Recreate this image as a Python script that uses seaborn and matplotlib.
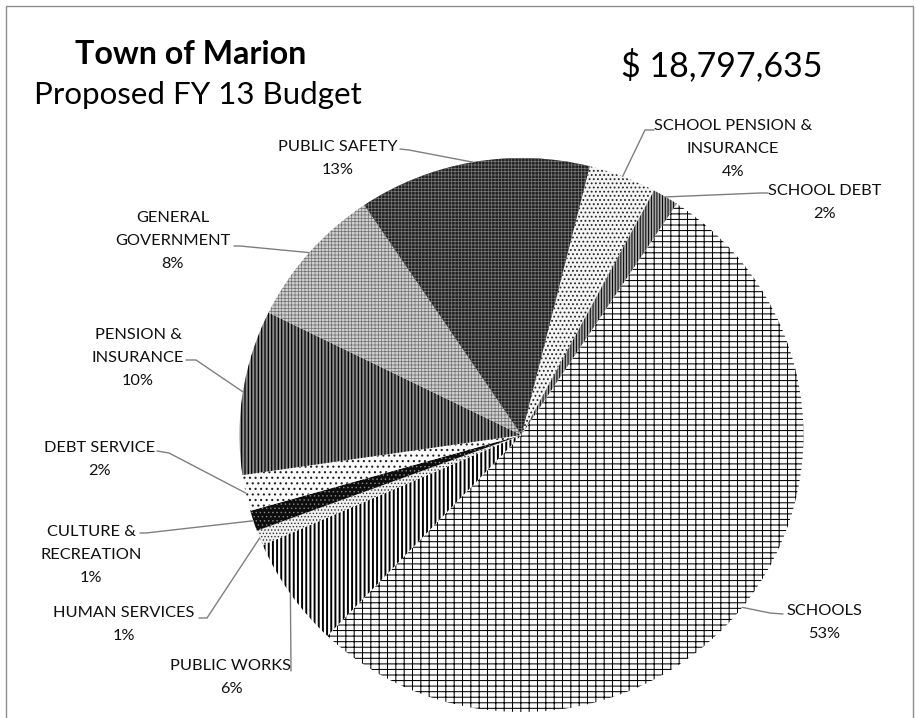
import numpy as np
import matplotlib
matplotlib.use("Agg")
import matplotlib.pyplot as plt
import seaborn as sns
from matplotlib.patches import Rectangle
from matplotlib.lines import Line2D

# ---------------- data ----------------
categories = ["SCHOOL PENSION &\nINSURANCE", "SCHOOL DEBT", "SCHOOLS", "PUBLIC WORKS",
              "HUMAN SERVICES", "CULTURE &\nRECREATION", "DEBT SERVICE",
              "PENSION &\nINSURANCE", "GENERAL\nGOVERNMENT", "PUBLIC SAFETY"]
shares = [3.9, 1.5, 52.8, 6.4, 0.9, 1.2, 2.1, 9.6, 8.3, 13.3]
pct_labels = ["4%", "2%", "53%", "6%", "1%", "1%", "2%", "10%", "8%", "13%"]
title_line1 = "Town of Marion"
title_line2 = "Proposed FY 13 Budget"
total_text = "$ 18,797,635"

# ---------------- styles ----------------
# (face, hatch colour, hatch, hatch linewidth)
styles = [
    ("#f4f4f4", "#262626", "....", 0.8),
    ("#a8a8a8", "#000000", "||||||", 0.7),
    ("#ffffff", "#000000", "---||", 0.75),
    ("#ffffff", "#000000", "||||", 1.4),
    ("#f0f0f0", "#333333", ".....", 0.6),
    ("#0d0d0d", "#8a8a8a", "....", 0.5),
    ("#fafafa", "#222222", "...", 0.8),
    ("#8c8c8c", "#000000", "|||||", 0.9),
    ("#d0d0d0", "#707070", "+++++", 0.5),
    ("#222222", "#7a7a7a", "+++++", 0.5),
]

# label layout in pixels: text centre x, first line centre y, leader start, leader elbow
label_layout = [
    (733, 124, (654, 130), (645, 130)),
    (825, 189, (768, 193), (760, 193)),
    (824, 609, (783, 614), (770, 613)),
    (231, 664, (291, 671), (291, 671)),
    (124, 611, (199, 618), (207, 618)),
    (91, 530, (140, 533), (146, 533)),
    (100, 446, (157, 451), (169, 453)),
    (138, 333, (186, 360), (196, 360)),
    (173, 216, (234, 246), (240, 246)),
    (338, 145, (400, 149), (409, 150)),
]

sns.set_theme(style="white")
plt.rcParams["font.family"] = ["Lato", "DejaVu Sans"]
plt.rcParams["hatch.linewidth"] = 0.7

W, H = 916, 718
fig = plt.figure(figsize=(W / 100, H / 100), dpi=100)
fig.patch.set_facecolor("white")

cx, cy, rx, ry = 521.5, 435.0, 282.0, 277.0
ax = fig.add_axes([(cx - rx) / W, (H - cy - ry) / H, 2 * rx / W, 2 * ry / H])
ax.set_zorder(1)
wedges, _ = ax.pie(shares, startangle=76, counterclock=False, radius=1.0,
                   wedgeprops=dict(linewidth=0))
for w, (fc, hc, hatch, hlw) in zip(wedges, styles):
    w.set_facecolor(fc)
    w.set_edgecolor(hc)
    w.set_linewidth(0)
    w.set_hatch(hatch)
    if hasattr(w, "set_hatch_linewidth"):
        w.set_hatch_linewidth(hlw)
ax.set_aspect("auto")
ax.set_xlim(-1, 1)
ax.set_ylim(-1, 1)
ax.axis("off")

ov = fig.add_axes([0, 0, 1, 1])
ov.set_zorder(2)
ov.set_xlim(0, W)
ov.set_ylim(H, 0)
ov.axis("off")
ov.patch.set_alpha(0)

renderer = fig.canvas.get_renderer()


def fit_size(text, target, weight="normal"):
    t = ov.text(0, 0, text, fontsize=10, fontweight=weight)
    wd = t.get_window_extent(renderer).width
    t.remove()
    return 10 * target / wd


lab_fs = fit_size("PUBLIC SAFETY", 118)
t1_fs = fit_size(title_line1, 232, "bold")
t2_fs = fit_size(title_line2, 328)
tt_fs = fit_size(total_text, 201)

# frame
ov.add_patch(Rectangle((5.5, 5.5), 907, 740, fill=False, edgecolor="#8c8c8c", lw=1.0))

# titles
ov.text(75, 64, title_line1, fontsize=t1_fs, fontweight="bold", ha="left", va="baseline", color="black")
ov.text(34, 104, title_line2, fontsize=t2_fs, ha="left", va="baseline", color="black")
ov.text(621, 76, total_text, fontsize=tt_fs, ha="left", va="baseline", color="black")

# labels & leader lines
for w, name, pct, (tx, ty0, start, elbow) in zip(wedges, categories, pct_labels, label_layout):
    mid = np.deg2rad((w.theta1 + w.theta2) / 2)
    dx, dy = ax.transData.transform((np.cos(mid), np.sin(mid)))
    ex, ey = dx, H - dy
    ov.add_line(Line2D([start[0], elbow[0], ex], [start[1], elbow[1], ey],
                       color="#7f7f7f", lw=1.0, solid_joinstyle="miter"))
    lines = name.split("\n") + [pct]
    for k, s in enumerate(lines):
        ov.text(tx, ty0 + 23 * k + 6, s, fontsize=lab_fs, ha="center", va="baseline", color="#111111")

fig.savefig("out.png", dpi=100)
